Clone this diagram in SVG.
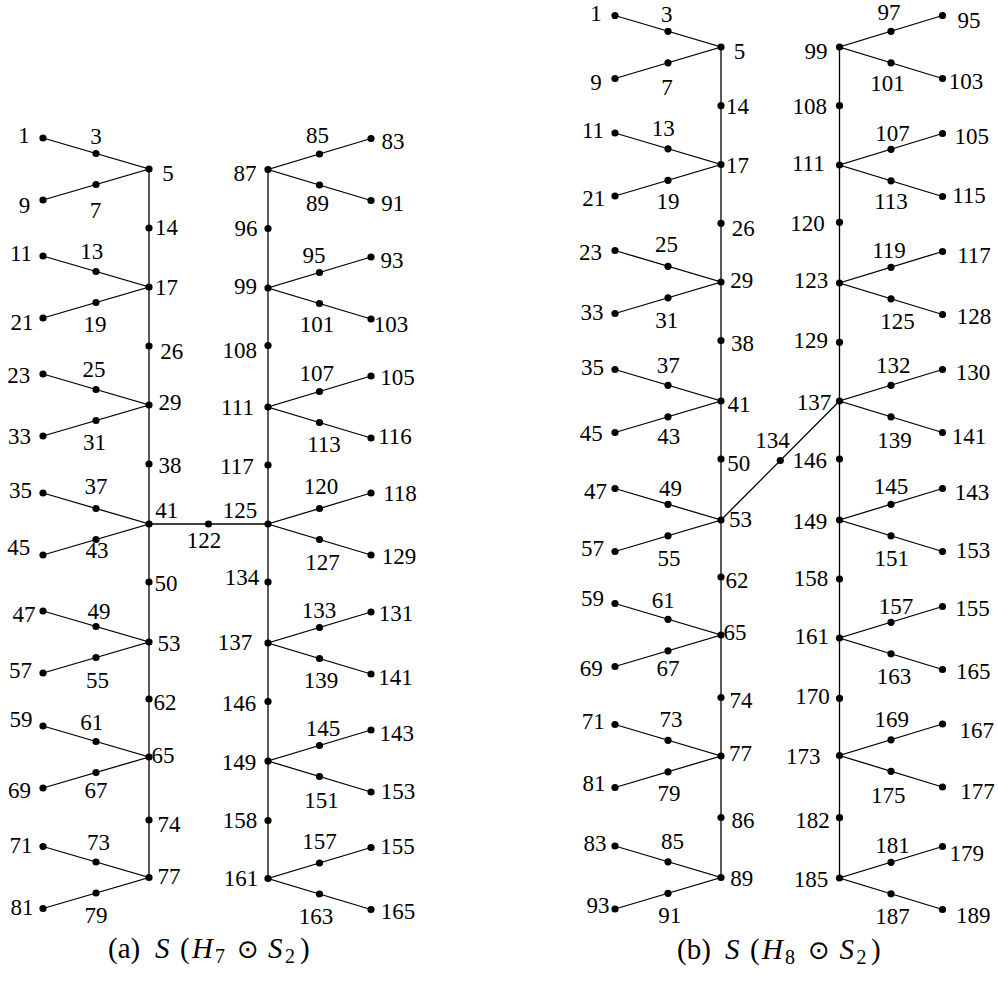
<svg xmlns="http://www.w3.org/2000/svg" width="998" height="985" viewBox="0 0 998 985">
<style>
.e{stroke:#000;stroke-width:1.3;fill:none}
circle{fill:#000}
text{font-family:"Liberation Serif","Times New Roman",serif;font-size:23px;text-anchor:middle;fill:#000}
.cap{text-anchor:start;font-size:29px}
.it{font-style:italic}
.sub{font-size:20px}
.op{font-family:"DejaVu Sans",sans-serif;font-size:26px}
</style>
<rect width="998" height="985" fill="#fff"/>
<g id="connectors">
<line class="e" x1="149" y1="169" x2="149" y2="877.5"/>
<polyline class="e" points="43,138 149,169 43,200"/>
<polyline class="e" points="43,256 149,287 43,318"/>
<polyline class="e" points="43,374 149,405 43,436"/>
<polyline class="e" points="43,493 149,524 43,555"/>
<polyline class="e" points="43,611 149,642 43,673"/>
<polyline class="e" points="43,726 149,757 43,788"/>
<polyline class="e" points="43,846.5 149,877.5 43,908.5"/>
<line class="e" x1="268" y1="169.5" x2="268" y2="878.5"/>
<polyline class="e" points="371,138.5 268,169.5 371,200.5"/>
<polyline class="e" points="371,257 268,288 371,319"/>
<polyline class="e" points="371,376 268,407 371,438"/>
<polyline class="e" points="371,493 268,524 371,555"/>
<polyline class="e" points="371,612 268,643 371,674"/>
<polyline class="e" points="371,730 268,761 371,792"/>
<polyline class="e" points="371,847.5 268,878.5 371,909.5"/>
<line class="e" x1="149" y1="524" x2="268" y2="524"/>
<line class="e" x1="721" y1="47" x2="721" y2="877.5"/>
<polyline class="e" points="615,15.5 721,47 615,78.5"/>
<polyline class="e" points="615,133 721,164.5 615,196"/>
<polyline class="e" points="615,250.5 721,282 615,313.5"/>
<polyline class="e" points="615,369.5 721,401 615,432.5"/>
<polyline class="e" points="615,488.5 721,520 615,551.5"/>
<polyline class="e" points="615,603.5 721,635 615,666.5"/>
<polyline class="e" points="615,724.5 721,756 615,787.5"/>
<polyline class="e" points="615,846 721,877.5 615,909"/>
<line class="e" x1="839.5" y1="47" x2="839.5" y2="878"/>
<polyline class="e" points="942.5,15.5 839.5,47 942.5,78.5"/>
<polyline class="e" points="942.5,133.5 839.5,165 942.5,196.5"/>
<polyline class="e" points="942.5,251.5 839.5,283 942.5,314.5"/>
<polyline class="e" points="942.5,369.5 839.5,401 942.5,432.5"/>
<polyline class="e" points="942.5,488.5 839.5,520 942.5,551.5"/>
<polyline class="e" points="942.5,606.5 839.5,638 942.5,669.5"/>
<polyline class="e" points="942.5,724 839.5,755.5 942.5,787"/>
<polyline class="e" points="942.5,846.5 839.5,878 942.5,909.5"/>
<line class="e" x1="721" y1="520" x2="839.5" y2="401"/>
</g>
<g id="nodes-a">
<g id="a-1"><circle cx="43" cy="138" r="3.6"/><text x="24" y="143">1</text></g>
<g id="a-3"><circle cx="96" cy="153.5" r="3.6"/><text x="96" y="144">3</text></g>
<g id="a-5"><circle cx="149" cy="169" r="3.6"/><text x="168" y="181">5</text></g>
<g id="a-9"><circle cx="43" cy="200" r="3.6"/><text x="24.5" y="212.5">9</text></g>
<g id="a-7"><circle cx="96" cy="184.5" r="3.6"/><text x="95.5" y="218">7</text></g>
<g id="a-14"><circle cx="149" cy="228" r="3.6"/><text x="166.5" y="235">14</text></g>
<g id="a-11"><circle cx="43" cy="256" r="3.6"/><text x="21" y="261">11</text></g>
<g id="a-13"><circle cx="96" cy="271.5" r="3.6"/><text x="91.7" y="259">13</text></g>
<g id="a-17"><circle cx="149" cy="287" r="3.6"/><text x="166.5" y="295">17</text></g>
<g id="a-21"><circle cx="43" cy="318" r="3.6"/><text x="22" y="330">21</text></g>
<g id="a-19"><circle cx="96" cy="302.5" r="3.6"/><text x="95" y="331.5">19</text></g>
<g id="a-26"><circle cx="149" cy="346" r="3.6"/><text x="171.7" y="358.5">26</text></g>
<g id="a-23"><circle cx="43" cy="374" r="3.6"/><text x="18.8" y="382.5">23</text></g>
<g id="a-25"><circle cx="96" cy="389.5" r="3.6"/><text x="94" y="377">25</text></g>
<g id="a-29"><circle cx="149" cy="405" r="3.6"/><text x="170" y="410">29</text></g>
<g id="a-33"><circle cx="43" cy="436" r="3.6"/><text x="19.5" y="444">33</text></g>
<g id="a-31"><circle cx="96" cy="420.5" r="3.6"/><text x="94.5" y="450">31</text></g>
<g id="a-38"><circle cx="149" cy="464" r="3.6"/><text x="170" y="472.5">38</text></g>
<g id="a-35"><circle cx="43" cy="493" r="3.6"/><text x="20.5" y="497.5">35</text></g>
<g id="a-37"><circle cx="96" cy="508.5" r="3.6"/><text x="96" y="494">37</text></g>
<g id="a-41"><circle cx="149" cy="524" r="3.6"/><text x="166.7" y="518">41</text></g>
<g id="a-45"><circle cx="43" cy="555" r="3.6"/><text x="18.7" y="555">45</text></g>
<g id="a-43"><circle cx="96" cy="539.5" r="3.6"/><text x="97" y="557.5">43</text></g>
<g id="a-50"><circle cx="149" cy="582" r="3.6"/><text x="166" y="591">50</text></g>
<g id="a-47"><circle cx="43" cy="611" r="3.6"/><text x="24" y="621.5">47</text></g>
<g id="a-49"><circle cx="96" cy="626.5" r="3.6"/><text x="99" y="619">49</text></g>
<g id="a-53"><circle cx="149" cy="642" r="3.6"/><text x="169" y="651">53</text></g>
<g id="a-57"><circle cx="43" cy="673" r="3.6"/><text x="20.5" y="678">57</text></g>
<g id="a-55"><circle cx="96" cy="657.5" r="3.6"/><text x="97.5" y="687.5">55</text></g>
<g id="a-62"><circle cx="149" cy="699" r="3.6"/><text x="165" y="710">62</text></g>
<g id="a-59"><circle cx="43" cy="726" r="3.6"/><text x="21" y="727">59</text></g>
<g id="a-61"><circle cx="96" cy="741.5" r="3.6"/><text x="91.7" y="730">61</text></g>
<g id="a-65"><circle cx="149" cy="757" r="3.6"/><text x="163" y="762.5">65</text></g>
<g id="a-69"><circle cx="43" cy="788" r="3.6"/><text x="19.5" y="797.5">69</text></g>
<g id="a-67"><circle cx="96" cy="772.5" r="3.6"/><text x="96" y="798">67</text></g>
<g id="a-74"><circle cx="149" cy="820" r="3.6"/><text x="169" y="831.5">74</text></g>
<g id="a-71"><circle cx="43" cy="846.5" r="3.6"/><text x="21" y="852.5">71</text></g>
<g id="a-73"><circle cx="96" cy="862" r="3.6"/><text x="98.5" y="850">73</text></g>
<g id="a-77"><circle cx="149" cy="877.5" r="3.6"/><text x="169" y="883.5">77</text></g>
<g id="a-81"><circle cx="43" cy="908.5" r="3.6"/><text x="22" y="915">81</text></g>
<g id="a-79"><circle cx="96" cy="893" r="3.6"/><text x="96" y="922.5">79</text></g>
<g id="a-122"><circle cx="208.5" cy="524" r="3.6"/><text x="204" y="548">122</text></g>
<g id="a-83"><circle cx="371" cy="138.5" r="3.6"/><text x="393" y="149">83</text></g>
<g id="a-85"><circle cx="319.5" cy="154" r="3.6"/><text x="317.5" y="142.5">85</text></g>
<g id="a-87"><circle cx="268" cy="169.5" r="3.6"/><text x="245" y="181">87</text></g>
<g id="a-91"><circle cx="371" cy="200.5" r="3.6"/><text x="392.7" y="211">91</text></g>
<g id="a-89"><circle cx="319.5" cy="185" r="3.6"/><text x="317.5" y="211">89</text></g>
<g id="a-96"><circle cx="268" cy="228.5" r="3.6"/><text x="246" y="236">96</text></g>
<g id="a-93"><circle cx="371" cy="257" r="3.6"/><text x="392" y="267.5">93</text></g>
<g id="a-95"><circle cx="319.5" cy="272.5" r="3.6"/><text x="314" y="262.5">95</text></g>
<g id="a-99"><circle cx="268" cy="288" r="3.6"/><text x="245.5" y="294">99</text></g>
<g id="a-103"><circle cx="371" cy="319" r="3.6"/><text x="391" y="331.5">103</text></g>
<g id="a-101"><circle cx="319.5" cy="303.5" r="3.6"/><text x="317" y="331.5">101</text></g>
<g id="a-108"><circle cx="268" cy="345.5" r="3.6"/><text x="239.7" y="357.5">108</text></g>
<g id="a-105"><circle cx="371" cy="376" r="3.6"/><text x="397.5" y="385">105</text></g>
<g id="a-107"><circle cx="319.5" cy="391.5" r="3.6"/><text x="316.7" y="381">107</text></g>
<g id="a-111"><circle cx="268" cy="407" r="3.6"/><text x="237.5" y="415">111</text></g>
<g id="a-116"><circle cx="371" cy="438" r="3.6"/><text x="395" y="444">116</text></g>
<g id="a-113"><circle cx="319.5" cy="422.5" r="3.6"/><text x="324" y="451.5">113</text></g>
<g id="a-117"><circle cx="268" cy="465" r="3.6"/><text x="237" y="474">117</text></g>
<g id="a-118"><circle cx="371" cy="493" r="3.6"/><text x="400" y="501">118</text></g>
<g id="a-120"><circle cx="319.5" cy="508.5" r="3.6"/><text x="321" y="494">120</text></g>
<g id="a-125"><circle cx="268" cy="524" r="3.6"/><text x="240" y="517.5">125</text></g>
<g id="a-129"><circle cx="371" cy="555" r="3.6"/><text x="399" y="564">129</text></g>
<g id="a-127"><circle cx="319.5" cy="539.5" r="3.6"/><text x="322.5" y="570">127</text></g>
<g id="a-134"><circle cx="268" cy="582" r="3.6"/><text x="242" y="585">134</text></g>
<g id="a-131"><circle cx="371" cy="612" r="3.6"/><text x="396" y="621">131</text></g>
<g id="a-133"><circle cx="319.5" cy="627.5" r="3.6"/><text x="319" y="617.5">133</text></g>
<g id="a-137"><circle cx="268" cy="643" r="3.6"/><text x="235" y="650">137</text></g>
<g id="a-141"><circle cx="371" cy="674" r="3.6"/><text x="395.5" y="685">141</text></g>
<g id="a-139"><circle cx="319.5" cy="658.5" r="3.6"/><text x="321" y="687.5">139</text></g>
<g id="a-146"><circle cx="268" cy="701.5" r="3.6"/><text x="239" y="711">146</text></g>
<g id="a-143"><circle cx="371" cy="730" r="3.6"/><text x="396.7" y="741">143</text></g>
<g id="a-145"><circle cx="319.5" cy="745.5" r="3.6"/><text x="323" y="736">145</text></g>
<g id="a-149"><circle cx="268" cy="761" r="3.6"/><text x="239" y="770">149</text></g>
<g id="a-153"><circle cx="371" cy="792" r="3.6"/><text x="398" y="799">153</text></g>
<g id="a-151"><circle cx="319.5" cy="776.5" r="3.6"/><text x="321.5" y="807.5">151</text></g>
<g id="a-158"><circle cx="268" cy="820.5" r="3.6"/><text x="240" y="828">158</text></g>
<g id="a-155"><circle cx="371" cy="847.5" r="3.6"/><text x="397.5" y="854">155</text></g>
<g id="a-157"><circle cx="319.5" cy="863" r="3.6"/><text x="319.5" y="849">157</text></g>
<g id="a-161"><circle cx="268" cy="878.5" r="3.6"/><text x="241" y="886">161</text></g>
<g id="a-165"><circle cx="371" cy="909.5" r="3.6"/><text x="398" y="919">165</text></g>
<g id="a-163"><circle cx="319.5" cy="894" r="3.6"/><text x="316" y="924">163</text></g>
</g>
<g id="nodes-b">
<g id="b-1"><circle cx="615" cy="15.5" r="3.6"/><text x="596" y="21">1</text></g>
<g id="b-3"><circle cx="668" cy="31.3" r="3.6"/><text x="666.7" y="21.5">3</text></g>
<g id="b-5"><circle cx="721" cy="47" r="3.6"/><text x="739.5" y="59">5</text></g>
<g id="b-9"><circle cx="615" cy="78.5" r="3.6"/><text x="596" y="90">9</text></g>
<g id="b-7"><circle cx="668" cy="62.8" r="3.6"/><text x="667" y="95">7</text></g>
<g id="b-14"><circle cx="721" cy="105.7" r="3.6"/><text x="737.5" y="113.5">14</text></g>
<g id="b-11"><circle cx="615" cy="133" r="3.6"/><text x="593" y="137.5">11</text></g>
<g id="b-13"><circle cx="668" cy="148.8" r="3.6"/><text x="663.3" y="136">13</text></g>
<g id="b-17"><circle cx="721" cy="164.5" r="3.6"/><text x="737.5" y="173">17</text></g>
<g id="b-21"><circle cx="615" cy="196" r="3.6"/><text x="593.7" y="206">21</text></g>
<g id="b-19"><circle cx="668" cy="180.3" r="3.6"/><text x="668" y="209">19</text></g>
<g id="b-26"><circle cx="721" cy="223.3" r="3.6"/><text x="743.3" y="236">26</text></g>
<g id="b-23"><circle cx="615" cy="250.5" r="3.6"/><text x="590.5" y="260">23</text></g>
<g id="b-25"><circle cx="668" cy="266.3" r="3.6"/><text x="666.5" y="252">25</text></g>
<g id="b-29"><circle cx="721" cy="282" r="3.6"/><text x="741.7" y="287.5">29</text></g>
<g id="b-33"><circle cx="615" cy="313.5" r="3.6"/><text x="592" y="320">33</text></g>
<g id="b-31"><circle cx="668" cy="297.8" r="3.6"/><text x="666.7" y="327.5">31</text></g>
<g id="b-38"><circle cx="721" cy="340.5" r="3.6"/><text x="742.5" y="351">38</text></g>
<g id="b-35"><circle cx="615" cy="369.5" r="3.6"/><text x="592.5" y="375">35</text></g>
<g id="b-37"><circle cx="668" cy="385.3" r="3.6"/><text x="668.3" y="372.5">37</text></g>
<g id="b-41"><circle cx="721" cy="401" r="3.6"/><text x="739" y="411.5">41</text></g>
<g id="b-45"><circle cx="615" cy="432.5" r="3.6"/><text x="591.3" y="441">45</text></g>
<g id="b-43"><circle cx="668" cy="416.8" r="3.6"/><text x="668.7" y="444">43</text></g>
<g id="b-50"><circle cx="721" cy="459" r="3.6"/><text x="738.7" y="471">50</text></g>
<g id="b-47"><circle cx="615" cy="488.5" r="3.6"/><text x="595.5" y="499">47</text></g>
<g id="b-49"><circle cx="668" cy="504.3" r="3.6"/><text x="670.5" y="496">49</text></g>
<g id="b-53"><circle cx="721" cy="520" r="3.6"/><text x="740.5" y="527">53</text></g>
<g id="b-57"><circle cx="615" cy="551.5" r="3.6"/><text x="592.5" y="556">57</text></g>
<g id="b-55"><circle cx="668" cy="535.8" r="3.6"/><text x="669" y="566">55</text></g>
<g id="b-62"><circle cx="721" cy="577" r="3.6"/><text x="737" y="587.5">62</text></g>
<g id="b-59"><circle cx="615" cy="603.5" r="3.6"/><text x="592.5" y="606">59</text></g>
<g id="b-61"><circle cx="668" cy="619.3" r="3.6"/><text x="663.3" y="608">61</text></g>
<g id="b-65"><circle cx="721" cy="635" r="3.6"/><text x="735" y="640">65</text></g>
<g id="b-69"><circle cx="615" cy="666.5" r="3.6"/><text x="591.3" y="676">69</text></g>
<g id="b-67"><circle cx="668" cy="650.8" r="3.6"/><text x="668" y="676">67</text></g>
<g id="b-74"><circle cx="721" cy="697.5" r="3.6"/><text x="741" y="707.5">74</text></g>
<g id="b-71"><circle cx="615" cy="724.5" r="3.6"/><text x="593.3" y="729">71</text></g>
<g id="b-73"><circle cx="668" cy="740.3" r="3.6"/><text x="671" y="727">73</text></g>
<g id="b-77"><circle cx="721" cy="756" r="3.6"/><text x="740.5" y="761">77</text></g>
<g id="b-81"><circle cx="615" cy="787.5" r="3.6"/><text x="594" y="791">81</text></g>
<g id="b-79"><circle cx="668" cy="771.8" r="3.6"/><text x="669" y="801">79</text></g>
<g id="b-86"><circle cx="721" cy="817.5" r="3.6"/><text x="743" y="827.5">86</text></g>
<g id="b-83"><circle cx="615" cy="846" r="3.6"/><text x="595" y="851">83</text></g>
<g id="b-85"><circle cx="668" cy="861.8" r="3.6"/><text x="672.5" y="849">85</text></g>
<g id="b-89"><circle cx="721" cy="877.5" r="3.6"/><text x="741.7" y="886">89</text></g>
<g id="b-93"><circle cx="615" cy="909" r="3.6"/><text x="598" y="912.5">93</text></g>
<g id="b-91"><circle cx="668" cy="893.3" r="3.6"/><text x="669.7" y="922.5">91</text></g>
<g id="b-134"><circle cx="780.3" cy="460.5" r="3.6"/><text x="772.5" y="447.5">134</text></g>
<g id="b-95"><circle cx="942.5" cy="15.5" r="3.6"/><text x="969" y="27.5">95</text></g>
<g id="b-97"><circle cx="891" cy="31.3" r="3.6"/><text x="889" y="20">97</text></g>
<g id="b-99"><circle cx="839.5" cy="47" r="3.6"/><text x="816" y="59">99</text></g>
<g id="b-103"><circle cx="942.5" cy="78.5" r="3.6"/><text x="966" y="88.5">103</text></g>
<g id="b-101"><circle cx="891" cy="62.8" r="3.6"/><text x="887.5" y="91">101</text></g>
<g id="b-108"><circle cx="839.5" cy="105.7" r="3.6"/><text x="809.7" y="113.5">108</text></g>
<g id="b-105"><circle cx="942.5" cy="133.5" r="3.6"/><text x="971.7" y="144">105</text></g>
<g id="b-107"><circle cx="891" cy="149.3" r="3.6"/><text x="892.5" y="141">107</text></g>
<g id="b-111"><circle cx="839.5" cy="165" r="3.6"/><text x="808.3" y="171">111</text></g>
<g id="b-115"><circle cx="942.5" cy="196.5" r="3.6"/><text x="969" y="202.5">115</text></g>
<g id="b-113"><circle cx="891" cy="180.8" r="3.6"/><text x="891" y="209">113</text></g>
<g id="b-120"><circle cx="839.5" cy="222.3" r="3.6"/><text x="807.5" y="231">120</text></g>
<g id="b-117"><circle cx="942.5" cy="251.5" r="3.6"/><text x="974" y="262.5">117</text></g>
<g id="b-119"><circle cx="891" cy="267.3" r="3.6"/><text x="889" y="258">119</text></g>
<g id="b-123"><circle cx="839.5" cy="283" r="3.6"/><text x="811" y="287.5">123</text></g>
<g id="b-128"><circle cx="942.5" cy="314.5" r="3.6"/><text x="974" y="324">128</text></g>
<g id="b-125"><circle cx="891" cy="298.8" r="3.6"/><text x="897.5" y="329">125</text></g>
<g id="b-129"><circle cx="839.5" cy="342.3" r="3.6"/><text x="810.7" y="347.5">129</text></g>
<g id="b-130"><circle cx="942.5" cy="369.5" r="3.6"/><text x="973" y="380">130</text></g>
<g id="b-132"><circle cx="891" cy="385.3" r="3.6"/><text x="893.3" y="372.5">132</text></g>
<g id="b-137"><circle cx="839.5" cy="401" r="3.6"/><text x="814" y="410">137</text></g>
<g id="b-141"><circle cx="942.5" cy="432.5" r="3.6"/><text x="969" y="444">141</text></g>
<g id="b-139"><circle cx="891" cy="416.8" r="3.6"/><text x="894.5" y="447.5">139</text></g>
<g id="b-146"><circle cx="839.5" cy="459" r="3.6"/><text x="809.7" y="467.5">146</text></g>
<g id="b-143"><circle cx="942.5" cy="488.5" r="3.6"/><text x="972" y="500">143</text></g>
<g id="b-145"><circle cx="891" cy="504.3" r="3.6"/><text x="891" y="494">145</text></g>
<g id="b-149"><circle cx="839.5" cy="520" r="3.6"/><text x="810" y="529">149</text></g>
<g id="b-153"><circle cx="942.5" cy="551.5" r="3.6"/><text x="973" y="558">153</text></g>
<g id="b-151"><circle cx="891" cy="535.8" r="3.6"/><text x="891.7" y="566">151</text></g>
<g id="b-158"><circle cx="839.5" cy="579" r="3.6"/><text x="811" y="586">158</text></g>
<g id="b-155"><circle cx="942.5" cy="606.5" r="3.6"/><text x="972.5" y="616">155</text></g>
<g id="b-157"><circle cx="891" cy="622.3" r="3.6"/><text x="896" y="614">157</text></g>
<g id="b-161"><circle cx="839.5" cy="638" r="3.6"/><text x="811.7" y="644">161</text></g>
<g id="b-165"><circle cx="942.5" cy="669.5" r="3.6"/><text x="973.3" y="679">165</text></g>
<g id="b-163"><circle cx="891" cy="653.8" r="3.6"/><text x="894" y="684">163</text></g>
<g id="b-170"><circle cx="839.5" cy="698.3" r="3.6"/><text x="812.5" y="704">170</text></g>
<g id="b-167"><circle cx="942.5" cy="724" r="3.6"/><text x="976.7" y="737.5">167</text></g>
<g id="b-169"><circle cx="891" cy="739.8" r="3.6"/><text x="891.7" y="727">169</text></g>
<g id="b-173"><circle cx="839.5" cy="755.5" r="3.6"/><text x="803.3" y="764">173</text></g>
<g id="b-177"><circle cx="942.5" cy="787" r="3.6"/><text x="977.5" y="799">177</text></g>
<g id="b-175"><circle cx="891" cy="771.3" r="3.6"/><text x="888.3" y="802.5">175</text></g>
<g id="b-182"><circle cx="839.5" cy="817.7" r="3.6"/><text x="812.5" y="827.5">182</text></g>
<g id="b-179"><circle cx="942.5" cy="846.5" r="3.6"/><text x="966.7" y="861">179</text></g>
<g id="b-181"><circle cx="891" cy="862.3" r="3.6"/><text x="892.5" y="852.5">181</text></g>
<g id="b-185"><circle cx="839.5" cy="878" r="3.6"/><text x="811" y="887">185</text></g>
<g id="b-189"><circle cx="942.5" cy="909.5" r="3.6"/><text x="973.3" y="922.5">189</text></g>
<g id="b-187"><circle cx="891" cy="893.8" r="3.6"/><text x="892.5" y="924">187</text></g>
</g>
<g id="captions">
<text class="cap" y="958"><tspan x="108">(a)</tspan><tspan x="155" class="it">S</tspan><tspan x="180">(</tspan><tspan x="192" class="it">H</tspan><tspan x="215" dy="5" class="sub">7</tspan><tspan x="237" dy="-5" class="op">⊙</tspan><tspan x="268" class="it">S</tspan><tspan x="285" dy="5" class="sub">2</tspan><tspan x="300" dy="-5">)</tspan></text>
<text class="cap" y="959"><tspan x="677">(b)</tspan><tspan x="725" class="it">S</tspan><tspan x="750">(</tspan><tspan x="762" class="it">H</tspan><tspan x="785" dy="5" class="sub">8</tspan><tspan x="808" dy="-5" class="op">⊙</tspan><tspan x="839.5" class="it">S</tspan><tspan x="856.5" dy="5" class="sub">2</tspan><tspan x="871" dy="-5">)</tspan></text>
</g>
</svg>
